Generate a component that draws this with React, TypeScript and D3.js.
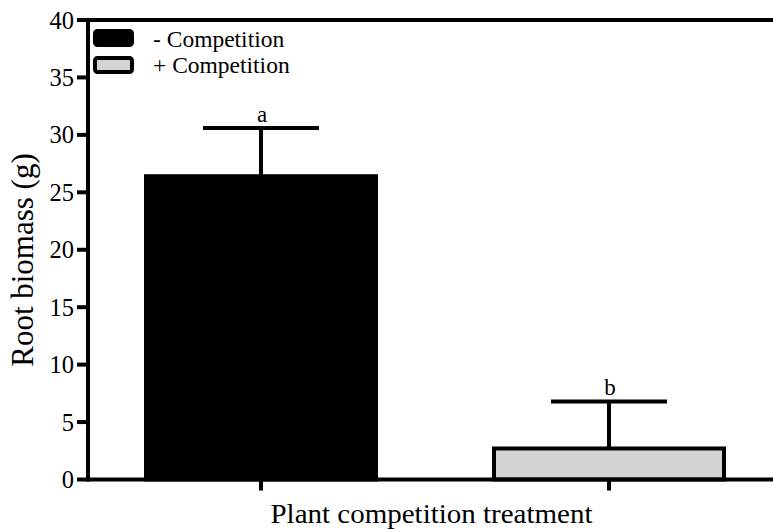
import React from "react";
import * as d3 from "d3";

const categories = ["- Competition", "+ Competition"];
const means = [26.4, 2.7];
const errors = [4.2, 4.1];
const letters = ["a", "b"];
const fills = ["#000000", "#d3d3d3"];
const yTicks = [0, 5, 10, 15, 20, 25, 30, 35, 40];

const W = 773;
const H = 531;
const left = 88;
const top = 20;
const bottom = 479.5;
const font = "Liberation Serif, DejaVu Serif, serif";
const sw = 4;

export default function App() {
  const y = d3.scaleLinear().domain([0, 40]).range([bottom, top]);
  const x = d3.scalePoint<string>().domain(categories).range([87, 783]).padding(0.5);
  const step = x.step();
  const bw = step * (2 / 3) - 2;
  const capW = step / 3;

  return (
    <svg width={W} height={H} style={{ position: "absolute", left: 0, top: 0, fontFamily: font }}>
      <rect width={W} height={H} fill="#fff" />
      {categories.map((c, i) => {
        const cx = x(c)!;
        const yTop = y(means[i]);
        const yErr = y(means[i] + errors[i]);
        return (
          <g key={c}>
            <line x1={cx} x2={cx} y1={yTop} y2={yErr} stroke="#000" strokeWidth={sw} />
            <line x1={cx - capW / 2} x2={cx + capW / 2} y1={yErr} y2={yErr} stroke="#000" strokeWidth={sw} />
            <rect
              x={cx - bw / 2}
              y={yTop}
              width={bw}
              height={bottom - yTop}
              fill={fills[i]}
              stroke="#000"
              strokeWidth={sw}
            />
            <text x={cx + 1} y={yErr - 6} textAnchor="middle" fontSize={23}>
              {letters[i]}
            </text>
            <line x1={cx} x2={cx} y1={bottom} y2={bottom + 11} stroke="#000" strokeWidth={sw} />
          </g>
        );
      })}
      {/* axes frame */}
      <line x1={left} x2={left} y1={top - sw / 2} y2={bottom + sw / 2} stroke="#000" strokeWidth={sw} />
      <line x1={left} x2={W} y1={bottom} y2={bottom} stroke="#000" strokeWidth={sw} />
      <line x1={left} x2={W} y1={top} y2={top} stroke="#000" strokeWidth={sw} />
      {yTicks.map((t) => (
        <g key={t}>
          <line x1={left - 11} x2={left} y1={y(t)} y2={y(t)} stroke="#000" strokeWidth={sw} />
          <text x={left - 14} y={y(t) + 8.5} textAnchor="end" fontSize={24.5}>
            {t}
          </text>
        </g>
      ))}
      <text
        transform={`translate(33, 260) rotate(-90)`}
        textAnchor="middle"
        fontSize={31}
      >
        Root biomass (g)
      </text>
      <text
        x={431.5}
        y={523}
        textAnchor="middle"
        fontSize={28}
        textLength={322}
        lengthAdjust="spacingAndGlyphs"
      >
        Plant competition treatment
      </text>
      {/* legend */}
      {categories.map((c, i) => (
        <g key={"lg" + c}>
          <rect
            x={95}
            y={31 + i * 27}
            width={37}
            height={14}
            rx={2.5}
            fill={fills[i]}
            stroke="#000"
            strokeWidth={sw}
          />
          <text x={153} y={47 + i * 26} fontSize={23.5}>
            {c}
          </text>
        </g>
      ))}
    </svg>
  );
}
